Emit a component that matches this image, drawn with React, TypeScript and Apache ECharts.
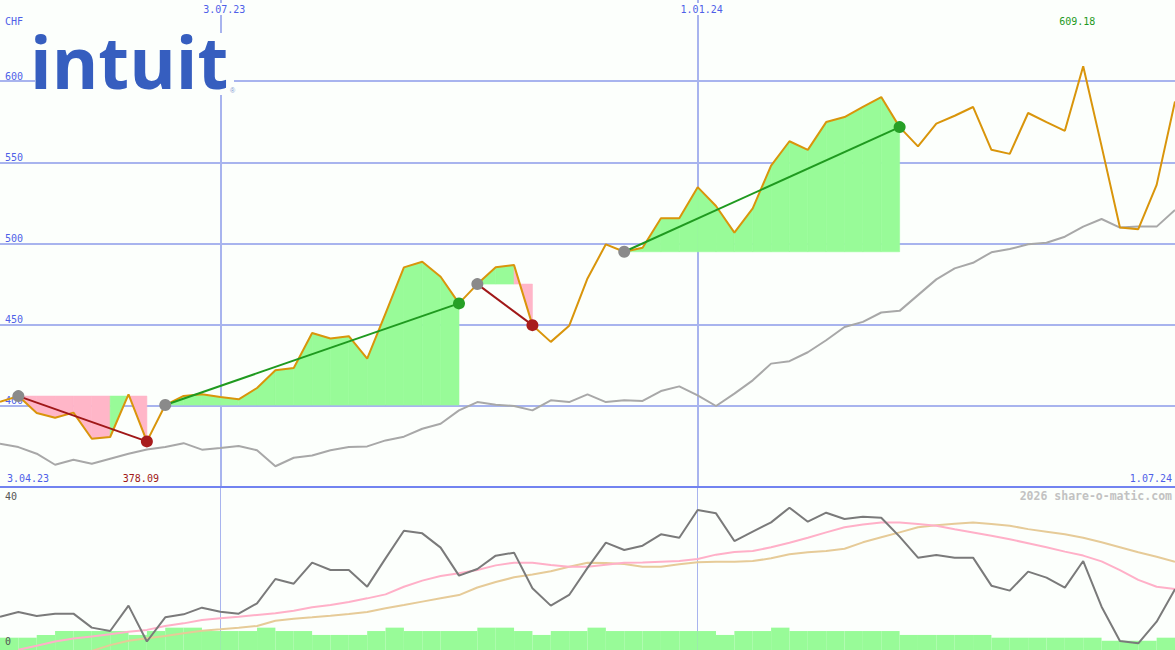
import React, { useEffect, useRef } from "react";
import * as echarts from "echarts";

// ---------- data ----------
const dates = [
  "10.04.23", "17.04.23", "24.04.23", "1.05.23", "8.05.23", "15.05.23", "22.05.23", "29.05.23",
  "5.06.23", "12.06.23", "19.06.23", "26.06.23", "3.07.23", "10.07.23", "17.07.23", "24.07.23",
  "31.07.23", "7.08.23", "14.08.23", "21.08.23", "28.08.23", "4.09.23", "11.09.23", "18.09.23",
  "25.09.23", "2.10.23", "9.10.23", "16.10.23", "23.10.23", "30.10.23", "6.11.23", "13.11.23",
  "20.11.23", "27.11.23", "4.12.23", "11.12.23", "18.12.23", "25.12.23", "1.01.24", "8.01.24",
  "15.01.24", "22.01.24", "29.01.24", "5.02.24", "12.02.24", "19.02.24", "26.02.24", "4.03.24",
  "11.03.24", "18.03.24", "25.03.24", "1.04.24", "8.04.24", "15.04.24", "22.04.24", "29.04.24",
  "6.05.24", "13.05.24", "20.05.24", "27.05.24", "3.06.24", "10.06.24", "17.06.24", "24.06.24",
  "1.07.24",
];
const markedDates = ["3.07.23", "1.01.24"];
const startLabel = "3.04.23";
const currency = "CHF";

const price = [
  402.5, 406.0, 395.6, 392.7, 395.8, 379.7, 380.8, 407.1, 378.09, 400.5,
  406.1, 407.1, 405.4, 404.0, 411.0, 421.9, 423.3, 444.9, 441.5, 442.9,
  429.1, 457.0, 485.3, 488.8, 479.5, 463.1, 475.0, 485.3, 486.7, 449.7,
  439.4, 449.3, 478.5, 499.5, 494.9, 497.4, 515.5, 515.5, 534.7, 523.1,
  506.7, 521.7, 548.0, 563.0, 557.7, 574.8, 577.9, 584.1, 590.2, 571.7,
  559.8, 573.8, 578.7, 584.1, 557.7, 555.2, 580.4, 574.8, 569.4, 609.18,
  560.0, 509.8, 508.8, 536.1, 587.5,
];
const movingAvg = [
  376.6, 374.6, 370.5, 363.7, 366.8, 364.3, 367.4, 370.5, 373.1, 374.6,
  377.0, 373.0, 374.0, 375.2, 372.6, 362.8, 368.0, 369.4, 372.6, 374.6,
  375.0, 378.7, 381.0, 385.9, 389.0, 397.2, 402.3, 400.7, 399.9, 397.2,
  403.4, 402.3, 407.1, 402.3, 403.4, 403.0, 409.1, 412.0, 406.5, 399.9,
  407.5, 415.7, 426.0, 427.5, 433.0, 440.4, 448.6, 451.7, 457.5, 458.5,
  468.2, 477.9, 484.7, 488.1, 494.6, 496.6, 499.5, 500.5, 504.2, 510.4,
  515.1, 509.8, 510.4, 510.4, 520.7,
];
// trades: entry index -> exit index
const trades = [
  { entry: 1, exit: 8 },
  { entry: 9, exit: 25 },
  { entry: 26, exit: 29 },
  { entry: 34, exit: 49 },
];
const oscillator = [
  6.85, 8.14, 7.03, 7.68, 7.68, 3.82, 2.9, 9.89, 0.0, 6.67,
  7.49, 9.33, 8.23, 7.68, 10.53, 17.24, 15.95, 21.75, 19.72, 19.72,
  15.13, 22.94, 30.57, 29.84, 25.89, 18.16, 20.0, 23.68, 24.51, 14.67,
  9.89, 12.83, 20.3, 27.26, 25.24, 26.44, 29.56, 28.64, 36.28, 35.36,
  27.72, 30.3, 32.87, 36.92, 33.05, 35.54, 33.79, 34.43, 34.16, 28.92,
  23.13, 23.86, 23.13, 23.13, 15.4, 14.03, 19.27, 17.61, 14.85, 22.2,
  9.61, 0.14, -0.5, 5.47, 14.4,
];
const oscFast = [
  null, -2.3, -1.2, 0.0, 0.8, 1.4, 2.0, 2.7, 3.2, 4.28,
  5.0, 5.93, 6.4, 6.85, 7.31, 7.78, 8.5, 9.43, 10.07, 10.9,
  11.9, 13.0, 15.1, 16.8, 18.07, 18.8, 19.7, 21.0, 21.75, 21.75,
  21.1, 20.64, 20.64, 21.2, 21.75, 21.8, 22.0, 22.2, 22.76, 23.96,
  24.7, 24.97, 25.98, 27.26, 28.64, 30.1, 31.5, 32.3, 32.8, 32.8,
  32.4, 31.95, 30.95, 30.1, 29.2, 28.2, 27.1, 26.0, 24.8, 23.7,
  22.1, 19.7, 17.0, 15.1, 14.5,
];
const oscSlow = [
  null, null, null, null, null, -2.6, -1.0, 0.2, 0.9, 1.5,
  2.26, 2.98, 3.36, 3.8, 4.28, 5.7, 6.3, 6.67, 7.1, 7.6,
  8.14, 9.15, 10.07, 11.0, 11.9, 12.8, 14.9, 16.4, 17.7, 18.5,
  19.4, 20.6, 21.75, 21.66, 21.38, 20.64, 20.64, 21.3, 21.85, 22.0,
  22.0, 22.2, 22.94, 24.05, 24.6, 24.97, 25.6, 27.36, 28.74, 30.1,
  31.5, 32.05, 32.5, 32.8, 32.4, 31.95, 31.0, 30.3, 29.56, 28.64,
  27.36, 25.98, 24.6, 23.4, 22.0,
];
// weekly volume (one bar per week interval, arbitrary units)
const volume = [
  7.6, 7.6, 9.3, 11.7, 11.7, 11.7, 11.7, 9.3, 11.7, 13.8,
  13.8, 11.7, 11.7, 11.7, 13.8, 11.7, 11.7, 9.3, 9.3, 9.3,
  11.7, 13.8, 11.7, 11.7, 11.7, 11.7, 13.8, 13.8, 11.7, 9.3,
  11.7, 11.7, 13.8, 11.7, 11.7, 11.7, 11.7, 11.7, 11.7, 9.3,
  11.7, 11.7, 13.8, 11.7, 11.7, 11.7, 11.7, 11.7, 11.7, 9.3,
  9.3, 9.3, 9.3, 9.3, 7.6, 7.6, 7.6, 7.6, 7.6, 7.6,
  5.7, 5.7, 5.7, 7.6,
];
const volumeWeeks = dates.slice(0, volume.length);

// ---------- styles ----------
const BG = "#fcfffc";
const GRID = "#a8b4ee";
const SEP = "#7283f0";
const BLUE = "#4f5fe8";
const MONO = "DejaVu Sans Mono";
const ORANGE = "#d9950b";
const MA_GRAY = "#a8a8a8";
const FILL_GREEN = "#98fb98";
const FILL_PINK = "#ffb6c8";
const LOSS_LINE = "#a01818";
const WIN_LINE = "#1f9a1f";
const LOSS_DOT = "#a81c1c";
const WIN_DOT = "#26a026";
const ENTRY_DOT = "#8a8a8a";

function buildOption() {
  const isMarked = (_i: number, v: string) => markedDates.indexOf(v) >= 0;

  let minIdx = 0;
  let maxIdx = 0;
  price.forEach((v, i) => {
    if (v < price[minIdx]) minIdx = i;
    if (v > price[maxIdx]) maxIdx = i;
  });

  const fillData: number[][] = [];
  trades.forEach((t) => {
    const base = price[t.entry];
    for (let i = t.entry; i < t.exit; i++) fillData.push([i, price[i], price[i + 1], base]);
  });

  const tradeSeries = trades.map((t) => {
    const win = price[t.exit] > price[t.entry];
    const data = price.map((v, i) =>
      i === t.entry
        ? { value: v, itemStyle: { color: ENTRY_DOT } }
        : i === t.exit
        ? { value: v, itemStyle: { color: win ? WIN_DOT : LOSS_DOT } }
        : null
    );
    return {
      type: "line",
      xAxisIndex: 0,
      yAxisIndex: 0,
      data,
      connectNulls: true,
      symbol: "circle",
      symbolSize: 12,
      showSymbol: true,
      showAllSymbol: true,
      lineStyle: { color: win ? WIN_LINE : LOSS_LINE, width: 2 },
      z: 5,
      silent: true,
    };
  });

  return {
    animation: false,
    backgroundColor: BG,
    grid: [
      { left: 0, right: 0, top: 0, height: 487 },
      { left: 0, right: 0, top: 488, height: 162 },
    ],
    xAxis: [
      {
        type: "category",
        gridIndex: 0,
        position: "bottom",
        data: dates,
        boundaryGap: false,
        axisLine: { show: true, lineStyle: { color: SEP, width: 2 } },
        axisTick: { show: false },
        axisLabel: { show: false },
        splitLine: { show: true, interval: isMarked, lineStyle: { color: GRID, width: 2 } },
      },
      {
        type: "category",
        gridIndex: 0,
        position: "top",
        data: dates,
        boundaryGap: false,
        axisLine: { show: false },
        axisTick: { show: false },
        splitLine: { show: false },
        axisLabel: {
          show: true,
          inside: true,
          interval: isMarked,
          margin: 3,
          color: BLUE,
          fontFamily: MONO,
          fontSize: 10,
          padding: [1, 0, 1, 8],
          backgroundColor: BG,
        },
      },
      {
        type: "category",
        gridIndex: 1,
        data: dates,
        boundaryGap: false,
        axisLine: { show: false },
        axisTick: { show: false },
        axisLabel: { show: false },
        splitLine: { show: true, interval: isMarked, lineStyle: { color: GRID, width: 1 } },
      },
      {
        type: "category",
        gridIndex: 1,
        data: volumeWeeks,
        boundaryGap: true,
        show: false,
      },
    ],
    yAxis: [
      {
        type: "value",
        gridIndex: 0,
        min: 350,
        max: 650,
        interval: 50,
        axisLine: { show: false },
        axisTick: { show: false },
        axisLabel: {
          inside: true,
          margin: 5,
          verticalAlign: "bottom",
          showMinLabel: false,
          showMaxLabel: false,
          color: BLUE,
          fontFamily: MONO,
          fontSize: 10,
        },
        splitLine: {
          show: true,
          showMinLine: false,
          showMaxLine: false,
          lineStyle: { color: GRID, width: 2 },
        },
      },
      {
        type: "value",
        gridIndex: 1,
        min: -2.35,
        max: 42.35,
        z: 10,
        axisLine: { show: false },
        axisTick: { show: false },
        splitLine: { show: false },
        axisLabel: {
          inside: true,
          margin: 5,
          customValues: [0, 40],
          color: "#555555",
          fontFamily: MONO,
          fontSize: 10,
        },
      },
      { type: "value", gridIndex: 1, min: 0, max: 100, show: false },
    ],
    graphic: [
      {
        type: "rect",
        shape: { x: 35, y: 33, width: 199, height: 62 },
        z: 9,
        style: { fill: BG },
      },
      {
        type: "text",
        x: 30,
        y: 61,
        z: 10,
        style: {
          text: "intuit",
          fontFamily: "Open Sans",
          fontWeight: "bold",
          fontSize: 71,
          fill: "#365ebf",
          verticalAlign: "middle",
        },
      },
      {
        type: "text",
        x: 230,
        y: 90,
        z: 10,
        style: { text: "®", fontSize: 7, fill: "#8096d0", verticalAlign: "middle" },
      },
      {
        type: "text",
        x: 5,
        y: 21,
        style: { text: currency, fontFamily: MONO, fontSize: 10, fill: BLUE, verticalAlign: "middle" },
      },
      {
        type: "text",
        x: 7,
        y: 478,
        style: { text: startLabel, fontFamily: MONO, fontSize: 10, fill: BLUE, verticalAlign: "middle" },
      },
      {
        type: "text",
        x: 1172,
        y: 478,
        style: {
          text: dates[dates.length - 1],
          fontFamily: MONO,
          fontSize: 10,
          fill: BLUE,
          align: "right",
          verticalAlign: "middle",
        },
      },
      {
        type: "text",
        x: 1172,
        y: 496,
        style: {
          text: "2026 share-o-matic.com",
          fontFamily: MONO,
          fontWeight: "bold",
          fontSize: 11.5,
          fill: "#c2c2c2",
          align: "right",
          verticalAlign: "middle",
        },
      },
    ],
    series: [
      {
        type: "custom",
        xAxisIndex: 0,
        yAxisIndex: 0,
        data: fillData,
        encode: { x: 0, y: [1, 2, 3] },
        z: 1,
        silent: true,
        renderItem: (_params: any, api: any) => {
          const i = api.value(0);
          const a = api.value(1);
          const b = api.value(2);
          const base = api.value(3);
          const pA = api.coord([i, a]);
          const pB = api.coord([i + 1, b]);
          const bA = api.coord([i, base]);
          const bB = api.coord([i + 1, base]);
          const color = b >= base ? FILL_GREEN : FILL_PINK;
          return {
            type: "polygon",
            shape: { points: [bA, pA, pB, bB] },
            style: { fill: color, stroke: color, lineWidth: 0.6 },
          };
        },
      },
      {
        type: "line",
        xAxisIndex: 0,
        yAxisIndex: 0,
        data: movingAvg,
        symbol: "none",
        lineStyle: { color: MA_GRAY, width: 2 },
        z: 2,
        silent: true,
      },
      {
        type: "line",
        xAxisIndex: 0,
        yAxisIndex: 0,
        data: price,
        symbol: "none",
        lineStyle: { color: ORANGE, width: 2 },
        z: 3,
        silent: true,
        markPoint: {
          symbol: "circle",
          symbolSize: 1,
          itemStyle: { color: "rgba(0,0,0,0)" },
          silent: true,
          data: [
            {
              coord: [dates[minIdx], 355.5],
              label: {
                show: true,
                position: "inside",
                formatter: price[minIdx].toFixed(2),
                color: LOSS_LINE,
                fontFamily: MONO,
                fontSize: 10,
                offset: [-6, 0],
              },
            },
            {
              coord: [dates[maxIdx], 637],
              label: {
                show: true,
                position: "inside",
                formatter: price[maxIdx].toFixed(2),
                color: WIN_LINE,
                fontFamily: MONO,
                fontSize: 10,
                offset: [-6, 0],
              },
            },
          ],
        },
      },
      ...tradeSeries,
      {
        type: "bar",
        xAxisIndex: 3,
        yAxisIndex: 2,
        data: volume,
        barWidth: "100%",
        barCategoryGap: "0%",
        itemStyle: { color: FILL_GREEN },
        z: 1,
        silent: true,
      },
      {
        type: "line",
        xAxisIndex: 2,
        yAxisIndex: 1,
        data: oscSlow,
        symbol: "none",
        lineStyle: { color: "#e6cb98", width: 2 },
        z: 2,
        silent: true,
      },
      {
        type: "line",
        xAxisIndex: 2,
        yAxisIndex: 1,
        data: oscFast,
        symbol: "none",
        lineStyle: { color: "#ffb0c8", width: 2 },
        z: 3,
        silent: true,
      },
      {
        type: "line",
        xAxisIndex: 2,
        yAxisIndex: 1,
        data: oscillator,
        symbol: "none",
        lineStyle: { color: "#7a7a7a", width: 2 },
        z: 4,
        silent: true,
      },
    ],
  };
}

export default function App() {
  const ref = useRef<HTMLDivElement>(null);
  useEffect(() => {
    document.body.style.margin = "0";
    const chart = echarts.init(ref.current as HTMLDivElement, null, { renderer: "svg" });
    chart.setOption(buildOption() as any);
    return () => chart.dispose();
  }, []);
  return (
    <div
      ref={ref}
      style={{ position: "absolute", left: 0, top: 0, width: 1175, height: 650 }}
    />
  );
}
